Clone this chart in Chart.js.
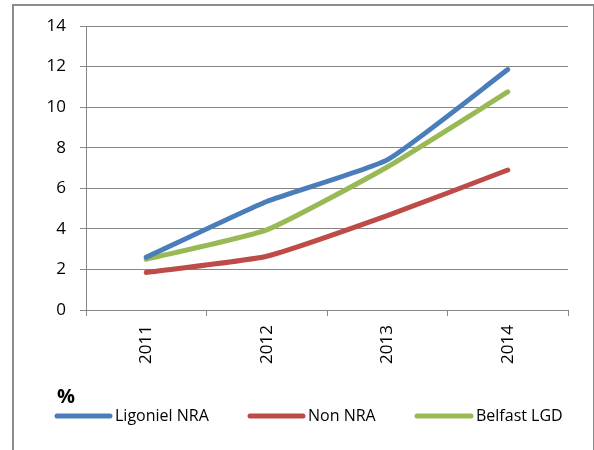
<!DOCTYPE html>
<html>
<head>
<meta charset="utf-8">
<script src="https://cdn.jsdelivr.net/npm/chart.js@4"></script>
<style>
  html, body { margin: 0; padding: 0; background: #fff; overflow: hidden; }
  #frame { position: absolute; left: 12px; top: 4px; width: 579px; height: 470px; border: 2px solid #8c8c8c; }
  #wrap { position: absolute; left: 0; top: 0; width: 594px; height: 450px; }
</style>
</head>
<body>
<div id="frame"></div>
<div id="wrap"><canvas id="chart" width="594" height="450"></canvas></div>
<script>
var years = ['2011', '2012', '2013', '2014'];
var ligoniel = [2.6, 5.35, 7.4, 11.85];
var nonNra = [1.85, 2.65, 4.65, 6.9];
var belfast = [2.5, 3.95, 7.05, 10.75];
var seriesNames = ['Ligoniel NRA', 'Non NRA', 'Belfast LGD'];
var seriesColors = ['#4a7ebb', '#be4b48', '#98b954'];
var yTicks = [0, 2, 4, 6, 8, 10, 12, 14];

var fontFamily = "'Open Sans', sans-serif";

// legend drawn by hand so it sits like the original
var legendPlugin = {
	id: 'excelLegend',
	afterDraw: function(chart) {
		var ctx = chart.ctx;
		var pos = [[57, 115], [250, 308], [417, 476]];
		ctx.save();
		ctx.font = 'bold 20px ' + fontFamily;
		ctx.fillStyle = '#000';
		ctx.textBaseline = 'middle';
		ctx.fillText('%', 57, 397);
		ctx.font = '16px ' + fontFamily;
		chart.data.datasets.forEach(function(ds, i) {
			ctx.strokeStyle = ds.borderColor;
			ctx.lineWidth = 5;
			ctx.lineCap = 'round';
			ctx.beginPath();
			ctx.moveTo(pos[i][0], 416);
			ctx.lineTo(pos[i][1] - 5, 416);
			ctx.stroke();
			ctx.fillStyle = '#000';
			ctx.fillText(ds.label, pos[i][1], 416);
		});
		ctx.restore();
	}
};

var seriesData = [ligoniel, nonNra, belfast];
new Chart(document.getElementById('chart'), {
	type: 'line',
	data: {
		labels: years,
		datasets: seriesData.map(function(d, i) {
			return {
				label: seriesNames[i],
				data: d,
				borderColor: seriesColors[i],
				backgroundColor: seriesColors[i],
				borderWidth: 5,
				pointRadius: 0,
				tension: 0.15,
				borderCapStyle: 'round',
				fill: false
			};
		})
	},
	options: {
		responsive: false,
		animation: false,
		layout: { padding: { top: 26, right: 26, bottom: 0, left: 0 } },
		plugins: { legend: { display: false }, tooltip: { enabled: false } },
		scales: {
			x: {
				offset: true,
				grid: { offset: true, drawOnChartArea: false, color: '#868686', tickLength: 6, lineWidth: 1 },
				border: { color: '#868686', width: 1 },
				ticks: { minRotation: 90, maxRotation: 90, padding: 9, color: '#000', font: { family: fontFamily, size: 17 } },
				afterFit: function(scale) { scale.height = 140; }
			},
			y: {
				min: 0,
				max: 14,
				afterBuildTicks: function(scale) { scale.ticks = yTicks.map(function(v) { return { value: v }; }); },
				grid: { color: '#868686', tickLength: 6, lineWidth: 1 },
				border: { color: '#868686', width: 1 },
				ticks: { padding: 14, color: '#000', font: { family: fontFamily, size: 17 } },
				afterFit: function(scale) { scale.width = 86; }
			}
		}
	},
	plugins: [legendPlugin]
});
</script>
</body>
</html>
